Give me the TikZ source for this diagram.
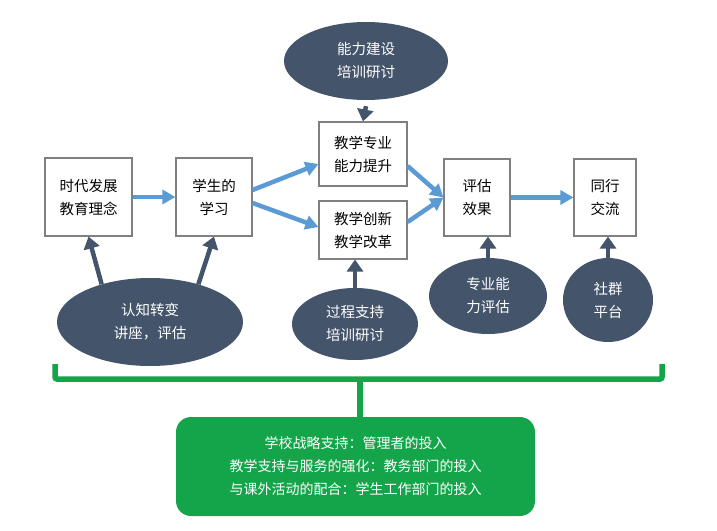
\documentclass[tikz,border=0pt]{standalone}
\usepackage{fontspec}
\setmainfont{Noto Sans CJK SC}
\usetikzlibrary{arrows.meta,shapes.geometric}
\definecolor{slateblue}{HTML}{44546A}
\definecolor{flowblue}{HTML}{5B9BD5}
\definecolor{supportgreen}{HTML}{14A54A}
\tikzset{
  stagebox/.style={draw=black!50,line width=1.1pt,fill=white,align=center,inner sep=0pt,
    font=\fontsize{14.5}{23}\selectfont},
  inputoval/.style={ellipse,fill=slateblue,text=white,align=center,inner sep=0pt,
    font=\fontsize{14.5}{23}\selectfont},
  flowarrow/.style={draw=flowblue,line width=4.5pt,-{Triangle[length=13pt,width=14pt]}},
  pusharrow/.style={draw=slateblue,line width=4.5pt,-{Triangle[length=12pt,width=16pt]}},
  bracket/.style={draw=supportgreen,line width=5.5pt,rounded corners=2pt},
}

\begin{document}
\begin{tikzpicture}[x=1pt,y=-1pt]
\useasboundingbox (0,0) rectangle (717,530);

\node[stagebox,minimum width=87pt,minimum height=78pt] (shidai)    at (88.5,197)  {时代发展\\教育理念};
\node[stagebox,minimum width=76pt,minimum height=78pt] (xuesheng)  at (214,197)   {学生的\\学习};
\node[stagebox,minimum width=88pt,minimum height=64pt] (zhuanye)   at (363,154)   {教学专业\\能力提升};
\node[stagebox,minimum width=88pt,minimum height=58pt] (chuangxin) at (363,230)   {教学创新\\教学改革};
\node[stagebox,minimum width=66pt,minimum height=77pt] (pinggu)    at (477,197.5) {评估\\效果};
\node[stagebox,minimum width=62pt,minimum height=77pt] (tonghang)  at (605,197.5) {同行\\交流};

\node[inputoval,minimum width=164pt,minimum height=78pt] (nengli)    at (366,61)  {能力建设\\培训研讨};
\node[inputoval,minimum width=186pt,minimum height=88pt] (renzhi)    at (150,322) {认知转变\\讲座，评估};
\node[inputoval,minimum width=126pt,minimum height=72pt] (guocheng)  at (355,324) {过程支持\\培训研讨};
\node[inputoval,minimum width=118pt,minimum height=76pt] (zhuanping) at (488,296) {专业能\\力评估};
\node[inputoval,minimum width=90pt,minimum height=84pt]  (shequn)    at (608,300) {社群\\平台};

\node[fill=supportgreen,rounded corners=15pt,text=white,align=center,
  minimum width=359pt,minimum height=99pt,inner sep=0pt,
  font=\fontsize{14}{23}\selectfont] (support) at (355.5,466.5)
  {学校战略支持：管理者的投入\\教学支持与服务的强化：教务部门的投入\\与课外活动的配合：学生工作部门的投入};

\draw[flowarrow] (shidai.east) -- (xuesheng.west);
\draw[flowarrow] ([yshift=7pt]xuesheng.east) -- ([yshift=-10pt]zhuanye.west);
\draw[flowarrow] ([yshift=-6pt]xuesheng.east) -- ([yshift=3pt]chuangxin.west);
\draw[flowarrow] ([yshift=-12pt]zhuanye.east) -- (pinggu.west);
\draw[flowarrow] ([yshift=8pt]chuangxin.east) -- (pinggu.west);
\draw[flowarrow] (pinggu.east) -- (tonghang.west);

\draw[pusharrow] ([yshift=-6pt]nengli.south) -- (zhuanye.north);
\draw[pusharrow] (renzhi.142) -- (shidai.south);
\draw[pusharrow] (renzhi.38) -- (xuesheng.south);
\draw[pusharrow] (guocheng.north) -- (guocheng.north |- chuangxin.south);
\draw[pusharrow] (zhuanping.north) -- (zhuanping.north |- pinggu.south);
\draw[pusharrow] (shequn.north) -- (shequn.north |- tonghang.south);

\coordinate (bl)  at (55,364);
\coordinate (br)  at (662,364);
\coordinate (mid) at (360,379);
\draw[bracket] (bl) |- (mid) -| (br);
\draw[bracket] (mid) -- (mid |- support.north);

\end{tikzpicture}
\end{document}
